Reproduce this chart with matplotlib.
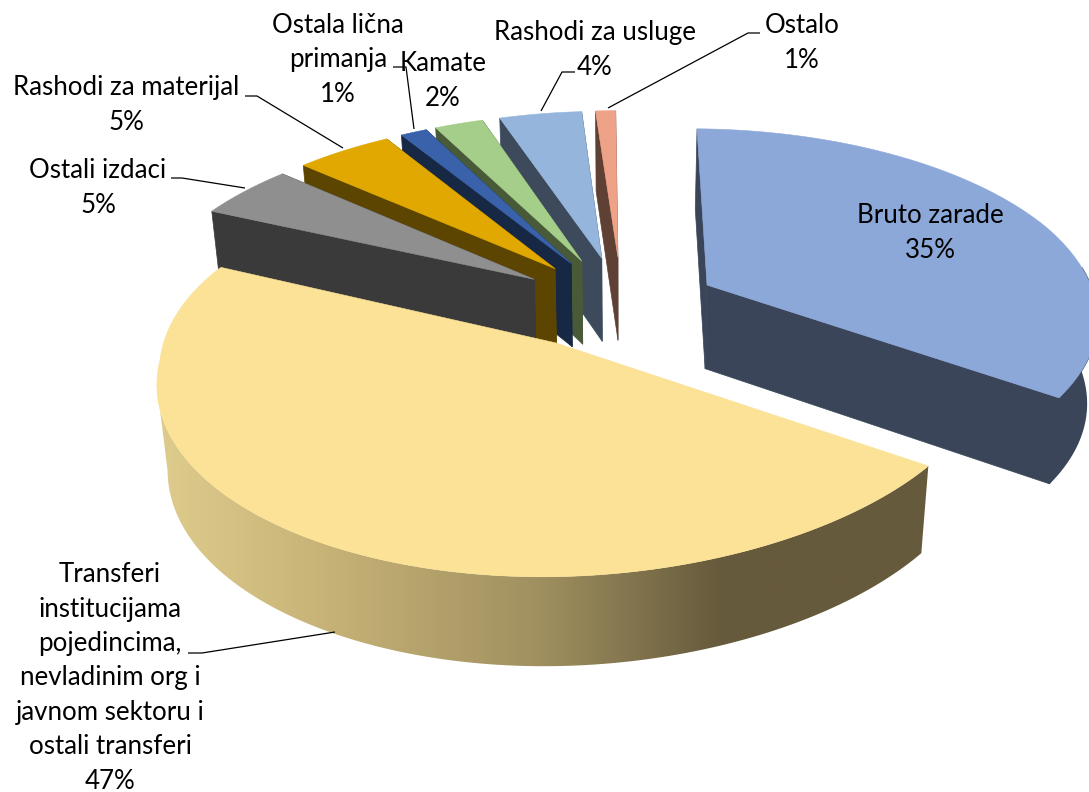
import numpy as np
import matplotlib
matplotlib.use("Agg")
import matplotlib.pyplot as plt
from matplotlib.patches import Polygon

categories = ["Bruto zarade",
              "Transferi\ninstitucijama\npojedincima,\nnevladinim org i\njavnom sektoru i\nostali transferi",
              "Ostali izdaci", "Rashodi za materijal", "Ostala lična\nprimanja",
              "Kamate", "Rashodi za usluge", "Ostalo"]
values = [34.6, 47.2, 4.7, 4.7, 1.3, 2.4, 4.1, 1.0]
top_colors = ["#8CA8D9", "#FBE296", "#8F8F8F", "#E0A800", "#3A62AB", "#A5CE8A", "#96B5DC", "#EEA287"]
side_colors = ["#3A4559", "#C0AB70", "#3A3A3A", "#5C4500", "#172845", "#485A38", "#3C4A5C", "#5F4035"]

# projection / layout style
START = 0.5
CX, CY, RX, RY, K = 622.0, 306.0, 395.0, 189.0, 0.18
SX, SY, DEPTH = 0.977, 1.02, 84.0
explode = [0.247, 0.0, 0.27, 0.27, 0.27, 0.27, 0.27, 0.27]
offset_override = {1: (-0.161, -0.189)}
rotation = [0, 0, -1, -1, -1, -1, -1, -1]
draw_order = [0, 7, 6, 5, 4, 3, 2, 1]

label_pos = [(930, 233), (110, 678), (98, 188), (126, 105), (338, 60), (443, 81), (595, 50), (802, 43)]
leaders = {
    1: [(335, 632), (202, 653), (188, 653)],
    2: [(245, 188), (182, 178), (171, 178)],
    3: [(343, 148), (257, 96), (245, 96)],
    4: [(414, 129), (406, 67), (393, 67)],
    6: [(541, 111), (562, 72), (575, 72)],
    7: [(608, 108), (748, 33), (760, 33)],
}


def radii(i, th):
    deg = np.degrees(th)
    if i == 0:
        r = np.interp(deg, [0, 70, 124], [1.015, 1.0, 0.975])
        return r, r
    if i == 1:
        return np.interp(deg, [124, 180, 265, 294], [1.02, 0.96, 0.955, 0.985]), np.full_like(th, 0.95)
    return np.ones_like(th), np.ones_like(th)


def project(X, Y):
    w = 1 + K * Y
    return CX + RX * X / w, CY - RY * Y / w


def lower(x, y):
    return CX + (x - CX) * SX, CY + (y - CY) * SY + DEPTH


GRAD_X = [165, 330, 540, 720]
GRAD_C = ["#DDCB8C", "#C6B276", "#A09060", "#665A3C"]


def gradient_strip(x):
    return np.array([np.interp(x, GRAD_X, [matplotlib.colors.to_rgb(c)[k] for c in GRAD_C]) for k in range(3)]).T[None, :, :]


fig = plt.figure(figsize=(10.89, 7.92), dpi=100)
ax = fig.add_axes([0, 0, 1, 1])

total = sum(values)
edges = START + np.concatenate([[0], np.cumsum(values)]) * 360.0 / total

for i in draw_order:
    t0, t1 = np.radians(edges[i] + rotation[i]), np.radians(edges[i + 1] + rotation[i])
    mid = 0.5 * (t0 + t1)
    ox, oy = offset_override.get(i, (explode[i] * np.sin(mid), explode[i] * np.cos(mid)))
    th = np.linspace(t0, t1, max(int(np.degrees(t1 - t0)) * 2, 8) + 1)
    ax_x, ax_y = project(ox, oy)
    rx, ry = radii(i, th)
    xs, ys = project(ox + rx * np.sin(th), oy + ry * np.cos(th))
    bx, by = lower(xs, ys)
    abx, aby = lower(ax_x, ax_y)
    z = 3 if i == 1 else 1

    if i == 1:
        strip_x = np.linspace(140, 960, 821)
        img = ax.imshow(gradient_strip(strip_x), extent=[140, 960, 720, 380], aspect="auto",
                        interpolation="bilinear", zorder=2)
        k = int(np.argmin(xs))
        clip = Polygon(np.r_[np.c_[xs[:k + 1], ys[:k + 1]], np.c_[bx[:k + 1], by[:k + 1]][::-1]],
                       closed=True, transform=ax.transData)
        img.set_clip_path(clip)
    else:
        c = side_colors[i]
        for px, py, qx, qy in [(xs[0], ys[0], bx[0], by[0]), (xs[-1], ys[-1], bx[-1], by[-1])]:
            ax.add_patch(Polygon([(ax_x, ax_y), (px, py), (qx, qy), (abx, aby)],
                                 closed=True, facecolor=c, edgecolor=c, lw=0.5))
        front = np.cos(th) < 0.1
        if front.sum() > 1:
            ax.add_patch(Polygon(np.r_[np.c_[xs[front], ys[front]], np.c_[bx[front], by[front]][::-1]],
                                 closed=True, facecolor=c, edgecolor=c, lw=1.0))
    ax.add_patch(Polygon(np.r_[[[ax_x, ax_y]], np.c_[xs, ys]], closed=True,
                         facecolor=top_colors[i], edgecolor=top_colors[i], lw=0.4, zorder=z))

ax.set_xlim(0, 1089)
ax.set_ylim(792, 0)
ax.axis("off")

for pts in leaders.values():
    p = np.array(pts)
    ax.plot(p[:, 0], p[:, 1], color="black", lw=0.9, solid_capstyle="butt", zorder=5)

for i, name in enumerate(categories):
    pct = f"{round(values[i] * 100 / total)}%"
    ax.text(label_pos[i][0], label_pos[i][1], f"{name}\n{pct}", family="Lato", fontsize=18.6,
            ha="center", va="center", multialignment="center", linespacing=1.47,
            color="black", zorder=6)

fig.savefig("out.png", dpi=100, facecolor="white")
